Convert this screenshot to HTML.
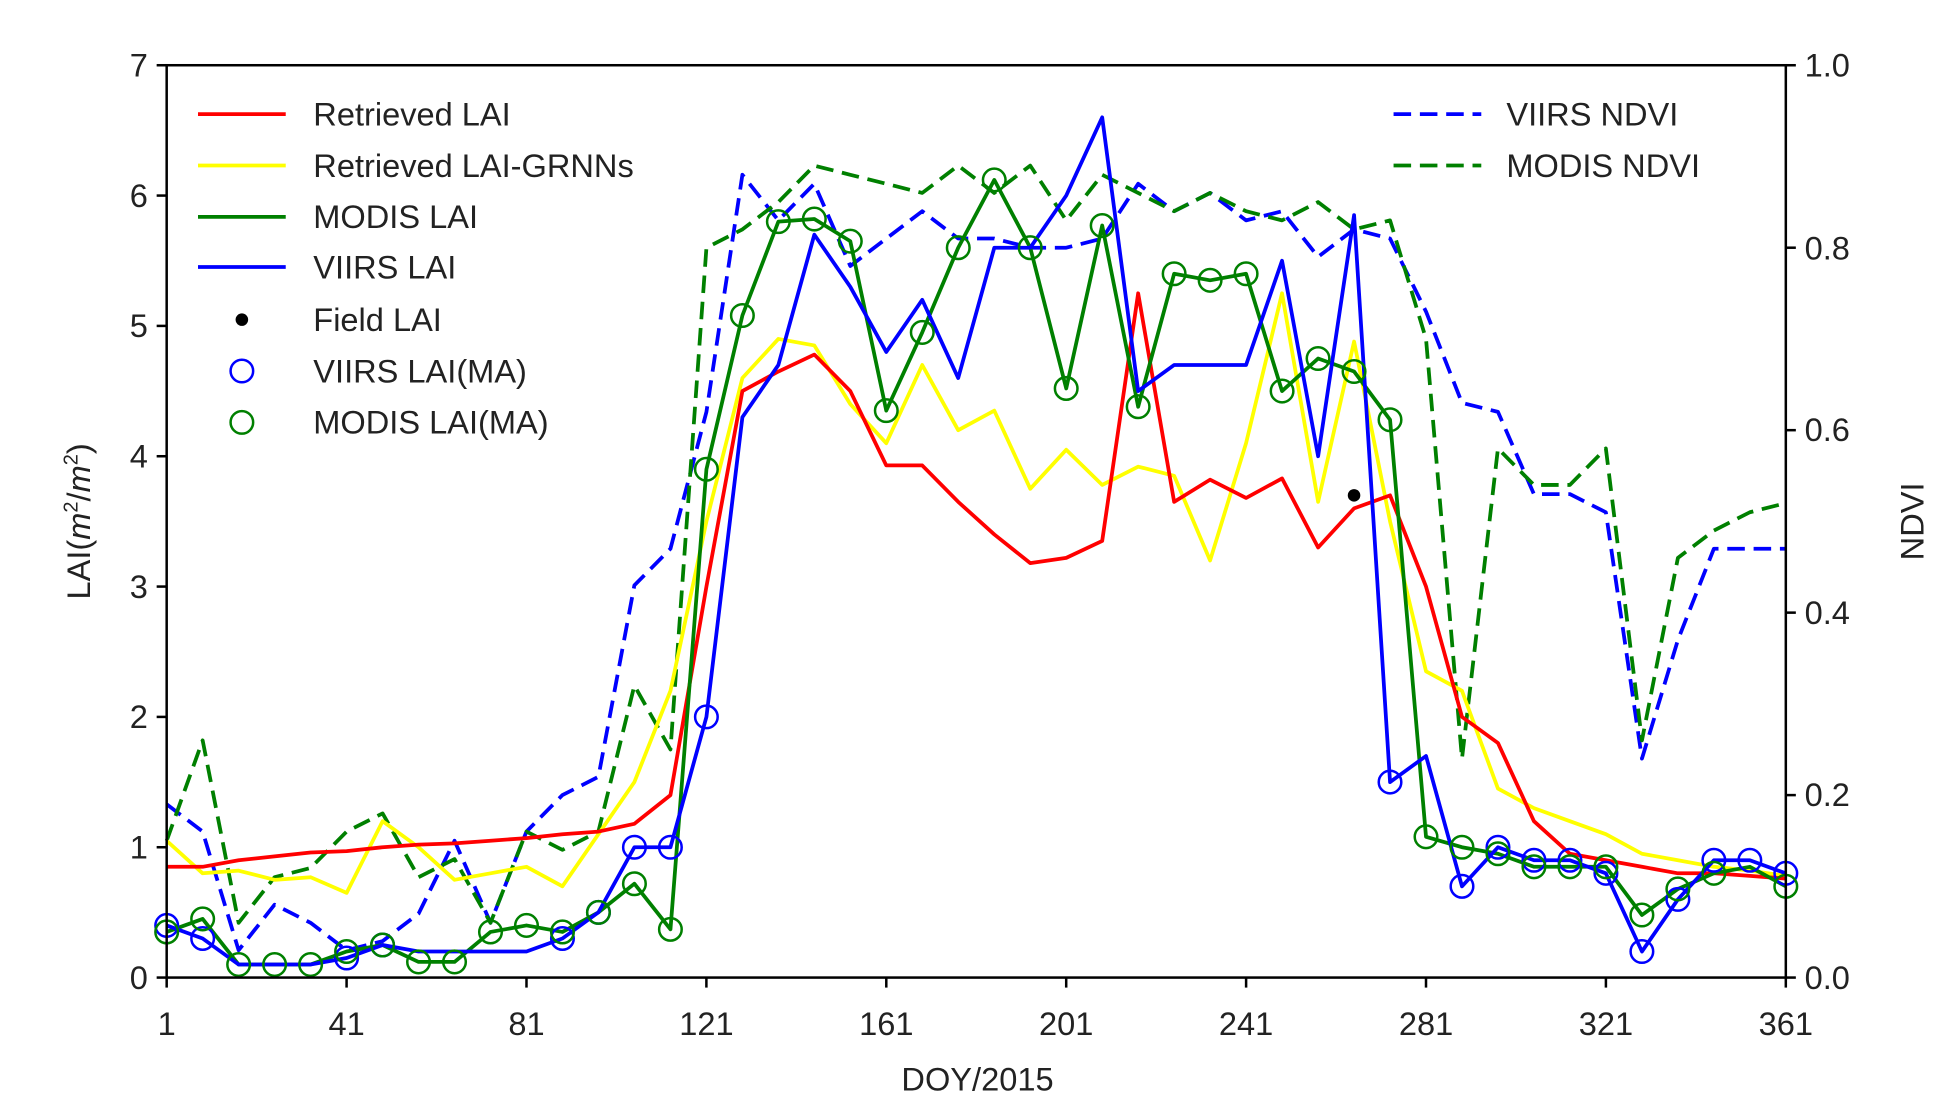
<!DOCTYPE html>
<html><head><meta charset="utf-8"><style>html,body{margin:0;padding:0;background:#fff;}svg{display:block}</style></head>
<body>
<svg id="s" width="1955" height="1118" viewBox="0 0 1560 892" xmlns="http://www.w3.org/2000/svg" font-family="Liberation Sans, DejaVu Sans, sans-serif">
<rect width="1560" height="892" fill="#fff"/>
<g id="plot"></g>
<rect x="133" y="52" width="1292" height="728" fill="none" stroke="#000" stroke-width="2"/>
<g font-size="26" fill="#222" text-anchor="end">
<text x="118" y="789">0</text><text x="118" y="685">1</text><text x="118" y="581">2</text><text x="118" y="477">3</text><text x="118" y="373">4</text><text x="118" y="269">5</text><text x="118" y="165">6</text><text x="118" y="61">7</text>
</g>
<g font-size="26" fill="#222" text-anchor="start">
<text x="1440" y="789">0.0</text><text x="1440" y="643">0.2</text><text x="1440" y="498">0.4</text><text x="1440" y="352">0.6</text><text x="1440" y="207">0.8</text><text x="1440" y="61">1.0</text>
</g>
<g font-size="26" fill="#222" text-anchor="middle" id="xt"></g>
<g stroke="#000" stroke-width="2" id="ticks"></g>
<text x="780" y="870" font-size="26" text-anchor="middle" fill="#222">DOY/2015</text>
<text transform="translate(72,416) rotate(-90)" font-size="26" text-anchor="middle" fill="#222">LAI(<tspan font-style="italic">m</tspan><tspan font-size="16" dy="-10">2</tspan><tspan dy="10">/</tspan><tspan font-style="italic">m</tspan><tspan font-size="16" dy="-10">2</tspan><tspan dy="10">)</tspan></text>
<text transform="translate(1535,416) rotate(-90)" font-size="26" text-anchor="middle" fill="#222">NDVI</text>
<g font-size="26" fill="#222">
<line x1="158" y1="91" x2="228" y2="91" stroke="red" stroke-width="3"/><text x="250" y="100">Retrieved LAI</text>
<line x1="158" y1="132" x2="228" y2="132" stroke="yellow" stroke-width="3"/><text x="250" y="141">Retrieved LAI-GRNNs</text>
<line x1="158" y1="173" x2="228" y2="173" stroke="green" stroke-width="3"/><text x="250" y="182">MODIS LAI</text>
<line x1="158" y1="213" x2="228" y2="213" stroke="blue" stroke-width="3"/><text x="250" y="222">VIIRS LAI</text>
<circle cx="193" cy="255" r="5" fill="#000"/><text x="250" y="264">Field LAI</text>
<circle cx="193" cy="296" r="9" fill="none" stroke="blue" stroke-width="2"/><text x="250" y="305">VIIRS LAI(MA)</text>
<circle cx="193" cy="337" r="9" fill="none" stroke="green" stroke-width="2"/><text x="250" y="346">MODIS LAI(MA)</text>
<line x1="1112" y1="91" x2="1182" y2="91" stroke="blue" stroke-width="3" stroke-dasharray="14,7"/><text x="1202" y="100">VIIRS NDVI</text>
<line x1="1112" y1="132" x2="1182" y2="132" stroke="green" stroke-width="3" stroke-dasharray="14,7"/><text x="1202" y="141">MODIS NDVI</text>
</g>
</svg>
<script>
var X=function(i){return 133+i*8*1292/360;},YL=function(v){return 780-v*104;},YN=function(v){return 780-v*728;};
var red=[0.85,0.85,0.9,0.93,0.96,0.97,1.0,1.02,1.03,1.05,1.07,1.1,1.12,1.18,1.4,3.0,4.5,4.65,4.78,4.5,3.93,3.93,3.65,3.4,3.18,3.22,3.35,5.25,3.65,3.82,3.68,3.83,3.3,3.6,3.7,3.0,2.0,1.8,1.2,0.95,0.9,0.85,0.8,0.8,0.78,0.76];
var yel=[1.05,0.8,0.82,0.75,0.77,0.65,1.2,1.0,0.75,0.8,0.85,0.7,1.1,1.5,2.2,3.5,4.6,4.9,4.85,4.4,4.1,4.7,4.2,4.35,3.75,4.05,3.78,3.92,3.85,3.2,4.1,5.25,3.65,4.88,3.5,2.35,2.2,1.45,1.3,1.2,1.1,0.95,0.9,0.85,0.82,0.78];
var grn=[0.35,0.45,0.1,0.1,0.1,0.2,0.25,0.12,0.12,0.35,0.4,0.35,0.5,0.72,0.37,3.9,5.08,5.8,5.82,5.65,4.35,4.95,5.6,6.12,5.6,4.52,5.77,4.38,5.4,5.35,5.4,4.5,4.75,4.65,4.28,1.08,1.0,0.95,0.85,0.85,0.85,0.48,0.68,0.8,0.85,0.7];
var blu=[0.4,0.3,0.1,0.1,0.1,0.15,0.25,0.2,0.2,0.2,0.2,0.3,0.5,1.0,1.0,2.0,4.3,4.7,5.7,5.3,4.8,5.2,4.6,5.6,5.6,6.0,6.6,4.5,4.7,4.7,4.7,5.5,4.0,5.85,1.5,1.7,0.7,1.0,0.9,0.9,0.8,0.2,0.6,0.9,0.9,0.8];
var vn=[0.19,0.16,0.03,0.08,0.06,0.03,0.04,0.07,0.15,0.06,0.16,0.2,0.22,0.43,0.47,0.62,0.88,0.83,0.87,0.78,0.81,0.84,0.81,0.81,0.80,0.80,0.81,0.87,0.84,0.86,0.83,0.84,0.79,0.82,0.81,0.73,0.63,0.62,0.53,0.53,0.51,0.24,0.37,0.47,0.47,0.47];
var mn=[0.15,0.26,0.06,0.11,0.12,0.16,0.18,0.11,0.13,0.06,0.16,0.14,0.16,0.32,0.25,0.80,0.82,0.85,0.89,0.88,0.87,0.86,0.89,0.86,0.89,0.83,0.88,0.86,0.84,0.86,0.84,0.83,0.85,0.82,0.83,0.70,0.24,0.58,0.54,0.54,0.58,0.26,0.46,0.49,0.51,0.52];
var g=document.getElementById('plot'),h='';
function pl(d,f,c,dash){h+='<polyline fill="none" stroke="'+c+'" stroke-width="3" stroke-linejoin="round" '+(dash?'stroke-dasharray="14,7" ':'')+'points="'+d.map(function(v,i){return X(i).toFixed(1)+','+f(v).toFixed(1)}).join(' ')+'"/>';}
pl(vn,YN,'blue',1);pl(mn,YN,'green',1);pl(yel,YL,'yellow');pl(red,YL,'red');pl(grn,YL,'green');pl(blu,YL,'blue');
var bc=[0,1,5,6,11,12,13,14,15,34,36,37,38,39,40,41,42,43,44,45];
bc.forEach(function(i){h+='<circle cx="'+X(i)+'" cy="'+YL(blu[i])+'" r="9" fill="none" stroke="blue" stroke-width="2"/>';});
grn.forEach(function(v,i){if(i==44)return;h+='<circle cx="'+X(i)+'" cy="'+YL(v)+'" r="9" fill="none" stroke="green" stroke-width="2"/>';});
h+='<circle cx="'+(133+264*1292/360)+'" cy="'+YL(3.7)+'" r="5" fill="#000"/>';
g.innerHTML=h;
var xt='',tk='';
for(var d=1;d<=361;d+=40){var x=133+(d-1)*1292/360;xt+='<text x="'+x+'" y="826">'+d+'</text>';tk+='<line x1="'+x+'" y1="780" x2="'+x+'" y2="788"/>';}
for(var v=0;v<=7;v++){tk+='<line x1="125" y1="'+YL(v)+'" x2="133" y2="'+YL(v)+'"/>';}
for(var n=0;n<=5;n++){var y=YN(n*0.2);tk+='<line x1="1425" y1="'+y+'" x2="1433" y2="'+y+'"/>';}
document.getElementById('xt').innerHTML=xt;document.getElementById('ticks').innerHTML=tk;
</script>
</body></html>
